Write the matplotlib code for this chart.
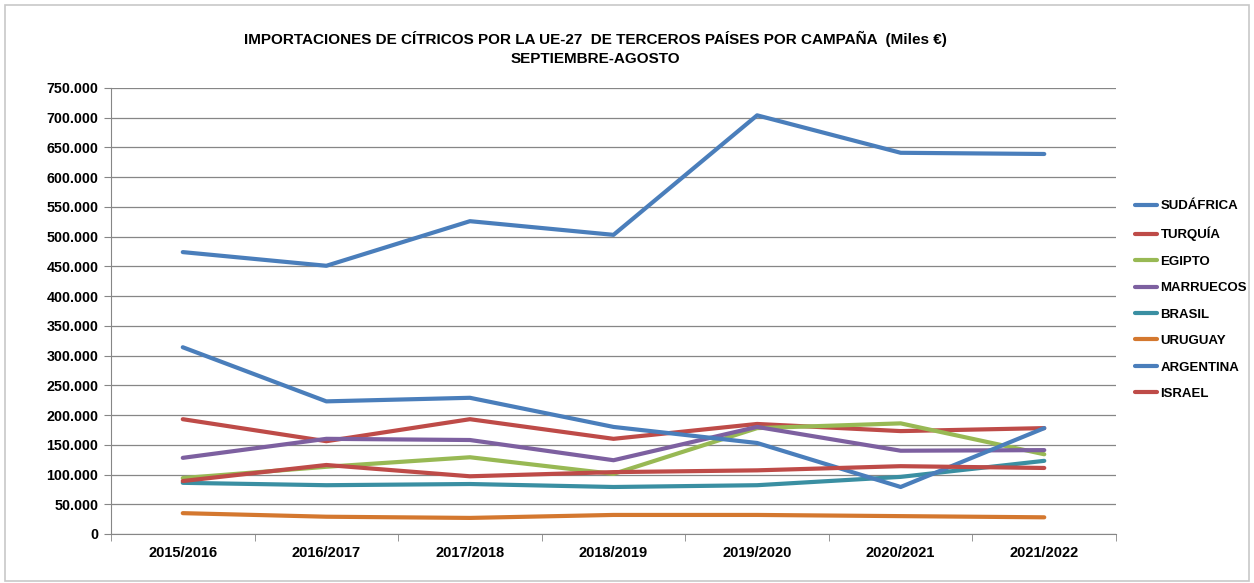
import matplotlib
matplotlib.use('Agg')
import matplotlib.pyplot as plt
from matplotlib.ticker import FuncFormatter, FixedLocator
from matplotlib.patches import Rectangle

plt.rcParams['font.family'] = ['Liberation Sans', 'DejaVu Sans']

# campañas
campanas = ['2015/2016', '2016/2017', '2017/2018', '2018/2019', '2019/2020', '2020/2021', '2021/2022']

# miles de euros
sudafrica = [474000, 451000, 526000, 503000, 704000, 641000, 639000]
turquia = [193000, 156000, 193000, 160000, 185000, 173000, 178000]
egipto = [94000, 113000, 129000, 101000, 178000, 186000, 134000]
marruecos = [128000, 160000, 158000, 124000, 180000, 140000, 141000]
brasil = [86000, 82000, 84000, 79000, 82000, 96000, 123000]
uruguay = [35000, 29000, 27000, 32000, 32000, 30000, 28000]
argentina = [314000, 223000, 229000, 180000, 153000, 79000, 178000]
israel = [89000, 116000, 97000, 104000, 107000, 114000, 111000]

series = [
    ('SUDÁFRICA', sudafrica, '#4A7EBB'),
    ('TURQUÍA', turquia, '#BE4B48'),
    ('EGIPTO', egipto, '#98B954'),
    ('MARRUECOS', marruecos, '#7D60A0'),
    ('BRASIL', brasil, '#3A8FA2'),
    ('URUGUAY', uruguay, '#D4782F'),
    ('ARGENTINA', argentina, '#4A7EBB'),
    ('ISRAEL', israel, '#BE4B48'),
]

fig = plt.figure(figsize=(12.54, 5.83), dpi=100)
# borde del área del gráfico
fig.patches.append(Rectangle((0.004, 0.004), 0.992, 0.988, transform=fig.transFigure,
                             fill=False, edgecolor='#C8C8C8', linewidth=1.2))

ax = fig.add_axes([0.0885, 0.0841, 0.8015, 0.765])
x = list(range(len(campanas)))
for nombre, valores, color in series:
    ax.plot(x, valores, color=color, linewidth=3, label=nombre, solid_capstyle='round')

ax.set_xlim(-0.5, len(campanas) - 0.5)
ax.set_ylim(0, 750000)
ax.set_yticks(range(0, 750001, 50000))
ax.yaxis.set_major_formatter(FuncFormatter(lambda v, p: '{:,.0f}'.format(v).replace(',', '.')))
ax.set_xticks(x)
ax.set_xticklabels(campanas)
ax.xaxis.set_minor_locator(FixedLocator([i - 0.5 for i in range(len(campanas) + 1)]))
ax.tick_params(axis='x', which='major', length=0, pad=9)
ax.tick_params(axis='x', which='minor', length=5, color='#868686')
ax.tick_params(axis='y', length=5, color='#868686', pad=4)
for lbl in ax.get_xticklabels():
    lbl.set_fontweight('bold')
    lbl.set_fontsize(10.5)
for lbl in ax.get_yticklabels():
    lbl.set_fontweight('bold')
    lbl.set_fontsize(10.3)

ax.grid(axis='y', color='#868686', linewidth=0.9)
ax.set_axisbelow(True)
for s in ['top', 'right']:
    ax.spines[s].set_visible(False)
for s in ['left', 'bottom']:
    ax.spines[s].set_color('#868686')

fig.text(0.475, 0.933, 'IMPORTACIONES DE CÍTRICOS POR LA UE-27  DE TERCEROS PAÍSES POR CAMPAÑA  (Miles €)',
         ha='center', va='center', fontsize=11, fontweight='bold')
fig.text(0.475, 0.898, 'SEPTIEMBRE-AGOSTO', ha='center', va='center', fontsize=11, fontweight='bold')

leg = fig.legend(loc='upper left', bbox_to_anchor=(0.896, 0.677), frameon=False,
                 prop={'weight': 'bold', 'size': 9.5}, handlelength=1.6, handletextpad=0.3,
                 labelspacing=1.08)

fig.savefig('out.png', dpi=100)
